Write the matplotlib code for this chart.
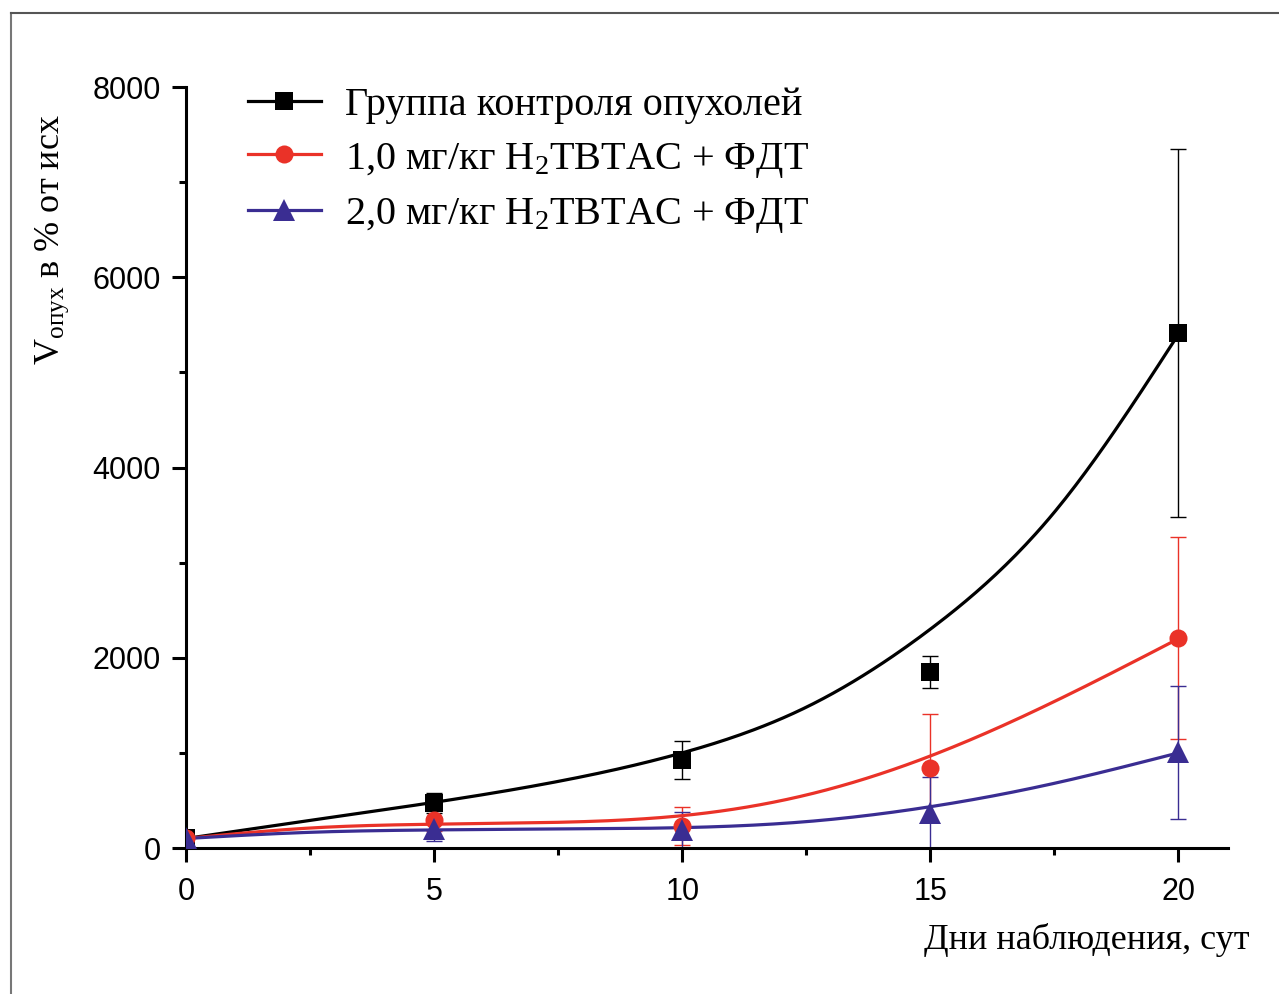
import numpy as np
import matplotlib.pyplot as plt
from matplotlib.lines import Line2D

plt.rcParams['font.family'] = ['Liberation Serif', 'DejaVu Serif']
plt.rcParams['mathtext.fontset'] = 'custom'
plt.rcParams['mathtext.rm'] = 'Liberation Serif'
plt.rcParams['mathtext.it'] = 'Liberation Serif:italic'

# дни наблюдения
days = [0, 5, 10, 15, 20]

# средние значения и ошибки
control = [100, 475, 925, 1850, 5410]
control_err = [0, 105, 200, 170, 1935]
dose1 = [100, 290, 230, 840, 2205]
dose1_err = [0, 110, 200, 570, 1060]
dose2 = [100, 200, 190, 365, 1005]
dose2_err = [0, 125, 190, 380, 695]

# аппроксимирующие кривые
fit_days = [0, 2.5, 5, 7.5, 10, 12.5, 15, 17.5, 20]
control_fit = [100, 290, 480, 700, 1000, 1480, 2300, 3530, 5400]
dose1_fit = [100, 210, 250, 270, 340, 557, 967, 1540, 2200]
dose2_fit = [100, 165, 190, 200, 214, 277, 434, 680, 1000]

labels = ['Группа контроля опухолей',
          '1,0 мг/кг H$_2$TBTAC + ФДТ',
          '2,0 мг/кг H$_2$TBTAC + ФДТ']
colors = ['black', '#ea3228', '#3a2d92']
markers = ['s', 'o', '^']
msizes = [13, 13, 16]


def smooth(x, y, n=300):
    # натуральный кубический сплайн, только для отрисовки кривой
    x = np.asarray(x, float)
    y = np.asarray(y, float)
    k = len(x)
    h = np.diff(x)
    A = np.zeros((k, k))
    b = np.zeros(k)
    A[0, 0] = A[-1, -1] = 1
    for i in range(1, k - 1):
        A[i, i - 1] = h[i - 1]
        A[i, i] = 2 * (h[i - 1] + h[i])
        A[i, i + 1] = h[i]
        b[i] = 6 * ((y[i + 1] - y[i]) / h[i] - (y[i] - y[i - 1]) / h[i - 1])
    M = np.linalg.solve(A, b)
    xs = np.linspace(x[0], x[-1], n)
    idx = np.clip(np.searchsorted(x, xs) - 1, 0, k - 2)
    x0, x1 = x[idx], x[idx + 1]
    hh = x1 - x0
    ys = (M[idx] * (x1 - xs) ** 3 / (6 * hh) + M[idx + 1] * (xs - x0) ** 3 / (6 * hh)
          + (y[idx] / hh - M[idx] * hh / 6) * (x1 - xs)
          + (y[idx + 1] / hh - M[idx + 1] * hh / 6) * (xs - x0))
    return xs, ys


fig = plt.figure(figsize=(12.79, 9.94), dpi=100)
ax = fig.add_axes([186 / 1279, 1 - 848 / 994, 1042 / 1279, 761 / 994])

series = [(control, control_err, control_fit),
          (dose1, dose1_err, dose1_fit),
          (dose2, dose2_err, dose2_fit)]

handles = []
for (vals, err, fit), c, m, ms, lab in zip(series, colors, markers, msizes, labels):
    ax.errorbar(days, vals, yerr=err, fmt='none', ecolor=c, elinewidth=1.0,
                capsize=6, capthick=1.0, zorder=2)
    sx, sy = smooth(fit_days, fit)
    ax.plot(sx, sy, color=c, lw=2.3, zorder=3)
    ax.plot(days, vals, linestyle='none', marker=m, ms=ms, color=c,
            markeredgewidth=0, zorder=4)
    handles.append(Line2D([], [], color=c, lw=2.3, marker=m, ms=ms,
                          markeredgewidth=0, label=lab))

ax.set_xlim(0, 21)
ax.set_ylim(0, 8000)
ax.set_xticks([0, 5, 10, 15, 20])
ax.set_xticks([2.5, 7.5, 12.5, 17.5], minor=True)
ax.set_yticks([0, 2000, 4000, 6000, 8000])
ax.set_yticks([1000, 3000, 5000, 7000], minor=True)

for s in ['top', 'right']:
    ax.spines[s].set_visible(False)
for s in ['left', 'bottom']:
    ax.spines[s].set_linewidth(2.2)

ax.tick_params(which='major', direction='out', length=10, width=2.2,
               labelsize=22, pad=8)
ax.tick_params(axis='x', which='major', pad=11)
ax.tick_params(which='minor', direction='out', length=5, width=2.2)
for lbl in ax.get_xticklabels() + ax.get_yticklabels():
    lbl.set_fontfamily('Liberation Sans')

ax.set_xlabel('Дни наблюдения, сут', fontsize=26, ha='right', va='center')
ax.xaxis.set_label_coords(1.021, -0.121)
ax.set_ylabel('V$_{\\mathrm{опух}}$ в % от исх', fontsize=26, va='center')
ax.yaxis.set_label_coords(-0.128, 0.80)

ax.legend(handles=handles, loc='upper left',
          bbox_to_anchor=(248 / 1279, 1 - 87 / 994),
          bbox_transform=fig.transFigure, frameon=False, fontsize=29,
          handlelength=1.8, handletextpad=0.62, labelspacing=0.4,
          borderaxespad=0, borderpad=0)

# рамка вокруг рисунка
fig.add_artist(Line2D([11 / 1279, 11 / 1279], [0, 1 - 13 / 994],
                      transform=fig.transFigure, color='#777777', lw=1.5))
fig.add_artist(Line2D([11 / 1279, 1], [1 - 13 / 994, 1 - 13 / 994],
                      transform=fig.transFigure, color='#555555', lw=1.5))

plt.savefig('out.png', dpi=100)
